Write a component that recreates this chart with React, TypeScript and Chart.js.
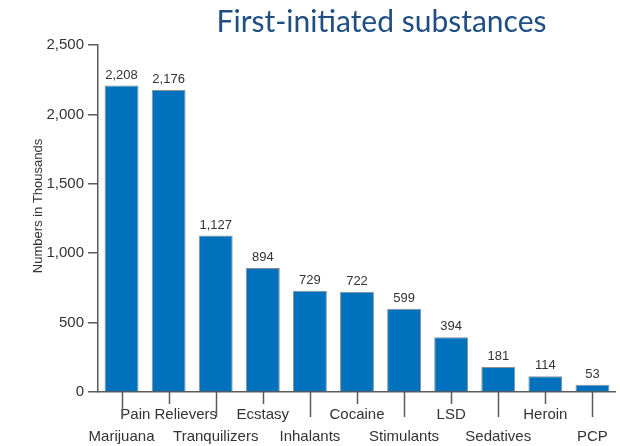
import React, { useEffect, useRef } from "react";
import { Chart, registerables } from "chart.js";

Chart.register(...registerables);

const TITLE = "First-initiated substances";
const Y_TITLE = "Numbers in Thousands";
const categories = [
  "Marijuana",
  "Pain Relievers",
  "Tranquilizers",
  "Ecstasy",
  "Inhalants",
  "Cocaine",
  "Stimulants",
  "LSD",
  "Sedatives",
  "Heroin",
  "PCP",
];
const values = [2208, 2176, 1127, 894, 729, 722, 599, 394, 181, 114, 53];
const yTicks = [0, 500, 1000, 1500, 2000, 2500];

const LABEL_FONT = "'Liberation Sans', Arial, Helvetica, sans-serif";
const AXIS_COLOR = "#5a5a5a";

const extrasPlugin = {
  id: "extras",
  afterDatasetsDraw(chart: any) {
    const ctx = chart.ctx;
    const meta = chart.getDatasetMeta(0);
    ctx.save();
    ctx.fillStyle = "#333333";
    ctx.font = `13px ${LABEL_FONT}`;
    ctx.textAlign = "center";
    ctx.textBaseline = "bottom";
    meta.data.forEach((bar: any, i: number) => {
      ctx.fillText(values[i].toLocaleString("en-US"), bar.x, bar.y - 4);
    });
    ctx.restore();
  },
  afterDraw(chart: any) {
    const ctx = chart.ctx;
    const xs = chart.scales.x;
    ctx.save();
    ctx.strokeStyle = AXIS_COLOR;
    ctx.lineWidth = 1.5;
    categories.forEach((_, i) => {
      const x = Math.round(xs.getPixelForTick(i)) + 0.5;
      const len = i % 2 === 0 ? 25 : 12;
      ctx.beginPath();
      ctx.moveTo(x, xs.top);
      ctx.lineTo(x, xs.top + len);
      ctx.stroke();
    });
    // y-axis title
    ctx.save();
    ctx.translate(38, 206);
    ctx.rotate(-Math.PI / 2);
    ctx.fillStyle = "#333333";
    ctx.font = `13px ${LABEL_FONT}`;
    ctx.textAlign = "center";
    ctx.textBaseline = "middle";
    ctx.fillText(Y_TITLE, 0, 0);
    ctx.restore();
    // chart title
    ctx.fillStyle = "#1f4e84";
    ctx.font = "30px Lato, 'Open Sans', sans-serif";
    ctx.textAlign = "center";
    ctx.textBaseline = "alphabetic";
    ctx.fillText(TITLE, 381.5, 32);
    ctx.restore();
  },
};

export default function App() {
  const ref = useRef<HTMLCanvasElement | null>(null);
  useEffect(() => {
    if (!ref.current) return;
    const chart = new Chart(ref.current, {
      type: "bar",
      data: {
        labels: categories,
        datasets: [
          {
            data: values,
            backgroundColor: "#0071bc",
            borderColor: "#8a8f96",
            borderWidth: 1,
            categoryPercentage: 1,
            barPercentage: 0.72,
          },
        ],
      },
      options: {
        responsive: false,
        animation: false,
        layout: { padding: { left: 0, right: 3, top: 45, bottom: 0 } },
        plugins: {
          legend: { display: false },
          tooltip: { enabled: false },
          title: { display: false },
        },
        scales: {
          x: {
            grid: { display: false, drawTicks: false },
            border: { display: true, color: AXIS_COLOR, width: 1.5 },
            ticks: {
              autoSkip: false,
              maxRotation: 0,
              minRotation: 0,
              padding: 12,
              color: "#333333",
              font: { family: LABEL_FONT, size: 15, lineHeight: 22 / 15 },
              callback: (_v: any, i: number) =>
                i % 2 === 0 ? ["", categories[i]] : categories[i],
            },
            afterFit: (s: any) => {
              s.height = 54;
            },
          },
          y: {
            min: 0,
            max: 2500,
            grid: {
              drawOnChartArea: false,
              drawTicks: true,
              tickLength: 10,
              color: AXIS_COLOR,
              lineWidth: 1.5,
            },
            border: { display: true, color: AXIS_COLOR, width: 1.5 },
            afterBuildTicks: (s: any) => {
              s.ticks = yTicks.map((v) => ({ value: v }));
            },
            ticks: {
              padding: 4,
              color: "#333333",
              font: { family: LABEL_FONT, size: 15 },
              callback: (v: any) => Number(v).toLocaleString("en-US"),
            },
            title: { display: false },
            afterFit: (s: any) => {
              s.width = 98;
            },
          },
        },
      },
      plugins: [extrasPlugin],
    });
    return () => chart.destroy();
  }, []);
  return (
    <div style={{ position: "fixed", left: 0, top: 0, width: 620, height: 446, background: "#fff" }}>
      <canvas ref={ref} width={620} height={446} style={{ display: "block" }} />
    </div>
  );
}
